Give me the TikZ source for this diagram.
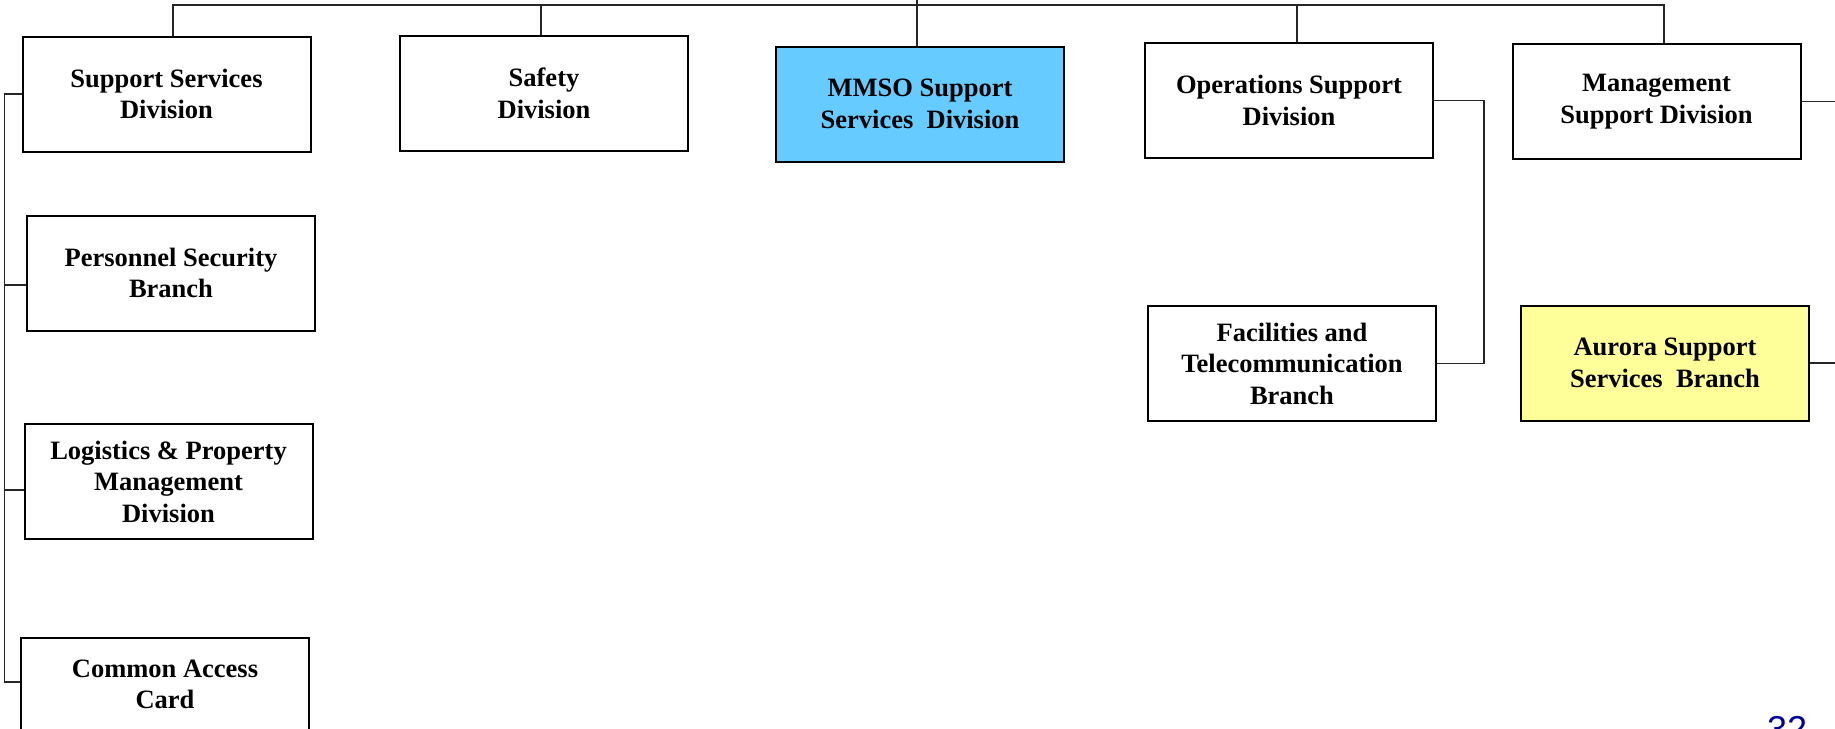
\documentclass[tikz,border=0pt]{standalone}
\usepackage{fontspec}
\setmainfont{Liberation Serif}
\newfontfamily\pagefont{Liberation Sans}
\usetikzlibrary{calc}
\definecolor{mmsoblue}{HTML}{66CCFF}
\definecolor{aurorayellow}{HTML}{FFFF99}
\definecolor{pagenumblue}{HTML}{000099}
\tikzstyle{unit}=[draw=black,line width=2pt,fill=white,minimum width=288pt,minimum height=115pt,inner sep=0pt,align=center,font=\bfseries\fontsize{26.5}{31.5}\selectfont]
\tikzstyle{link}=[draw=black!85,line width=1.6pt]
\newcommand{\unitbox}[4][white]{% Syntax: [fill] {name} {center} {text}
  \node[unit,fill=#1] (#2) at (#3) {#4};
}

\begin{document}
\begin{tikzpicture}[x=1pt,y=-1pt]
\useasboundingbox (0,0) rectangle (1835,728);
\clip (0,0) rectangle (1835,728);
% top row of divisions
\unitbox{ssd}{166.5,94}{Support Services\\Division}
\unitbox{safety}{544,93.5}{Safety\\Division}
\unitbox[mmsoblue]{mmso}{920,104}{MMSO Support\\Services\ \ Division}
\unitbox{ops}{1289,100.5}{Operations Support\\Division}
\unitbox{mgmt}{1656.5,101.5}{Management\\Support Division}
% left column under support services
\unitbox{personnel}{171,273}{Personnel Security\\Branch}
\unitbox{logistics}{168.5,481.5}{Logistics \& Property\\Management\\Division}
\node[unit,minimum height=93pt] (cac) at (165,684.5) {Common Access\\Card}; % bottom runs off the page
% branches on the right
\unitbox{fac}{1292,363.5}{Facilities and\\Telecommunication\\Branch}
\unitbox[aurorayellow]{aurora}{1665,363}{Aurora Support\\Services\ \ Branch}
% top bus
\coordinate (busL) at (173,5);
\coordinate (busR) at (1664,5);
\draw[link] (busL |- ssd.north) -- (busL) -- (busR) -- (busR |- mgmt.north);
\foreach \n/\x in {safety/541,ops/1297}
  \draw[link] (\x,5) -- (\x,5 |- \n.north);
\coordinate (mmsotop) at (917,0);
\draw[link] (mmsotop) -- (mmsotop |- mmso.north);
% left spine
\coordinate (spine) at (4.5,0);
\draw[link] (ssd.west) -- (spine |- ssd.west) -- (spine |- 0,682) -- (cac.west |- 0,682);
\foreach \n/\y in {personnel/285,logistics/490}
  \draw[link] (spine |- 0,\y) -- (\n.west |- 0,\y);
% operations to facilities
\coordinate (opsbend) at (1484,0);
\draw[link] (ops.east) -- (opsbend |- ops.east) -- (opsbend |- fac.east) -- (fac.east);
% stubs running off to the right
\coordinate (rightedge) at (1840,0);
\draw[link] (mgmt.east) -- (rightedge |- mgmt.east);
\draw[link] (aurora.east) -- (rightedge |- aurora.east);
% page number
\node[font=\pagefont\fontsize{36}{36}\selectfont,text=pagenumblue,anchor=base] (pagenum) at (1787,741) {32};
\end{tikzpicture}
\end{document}
